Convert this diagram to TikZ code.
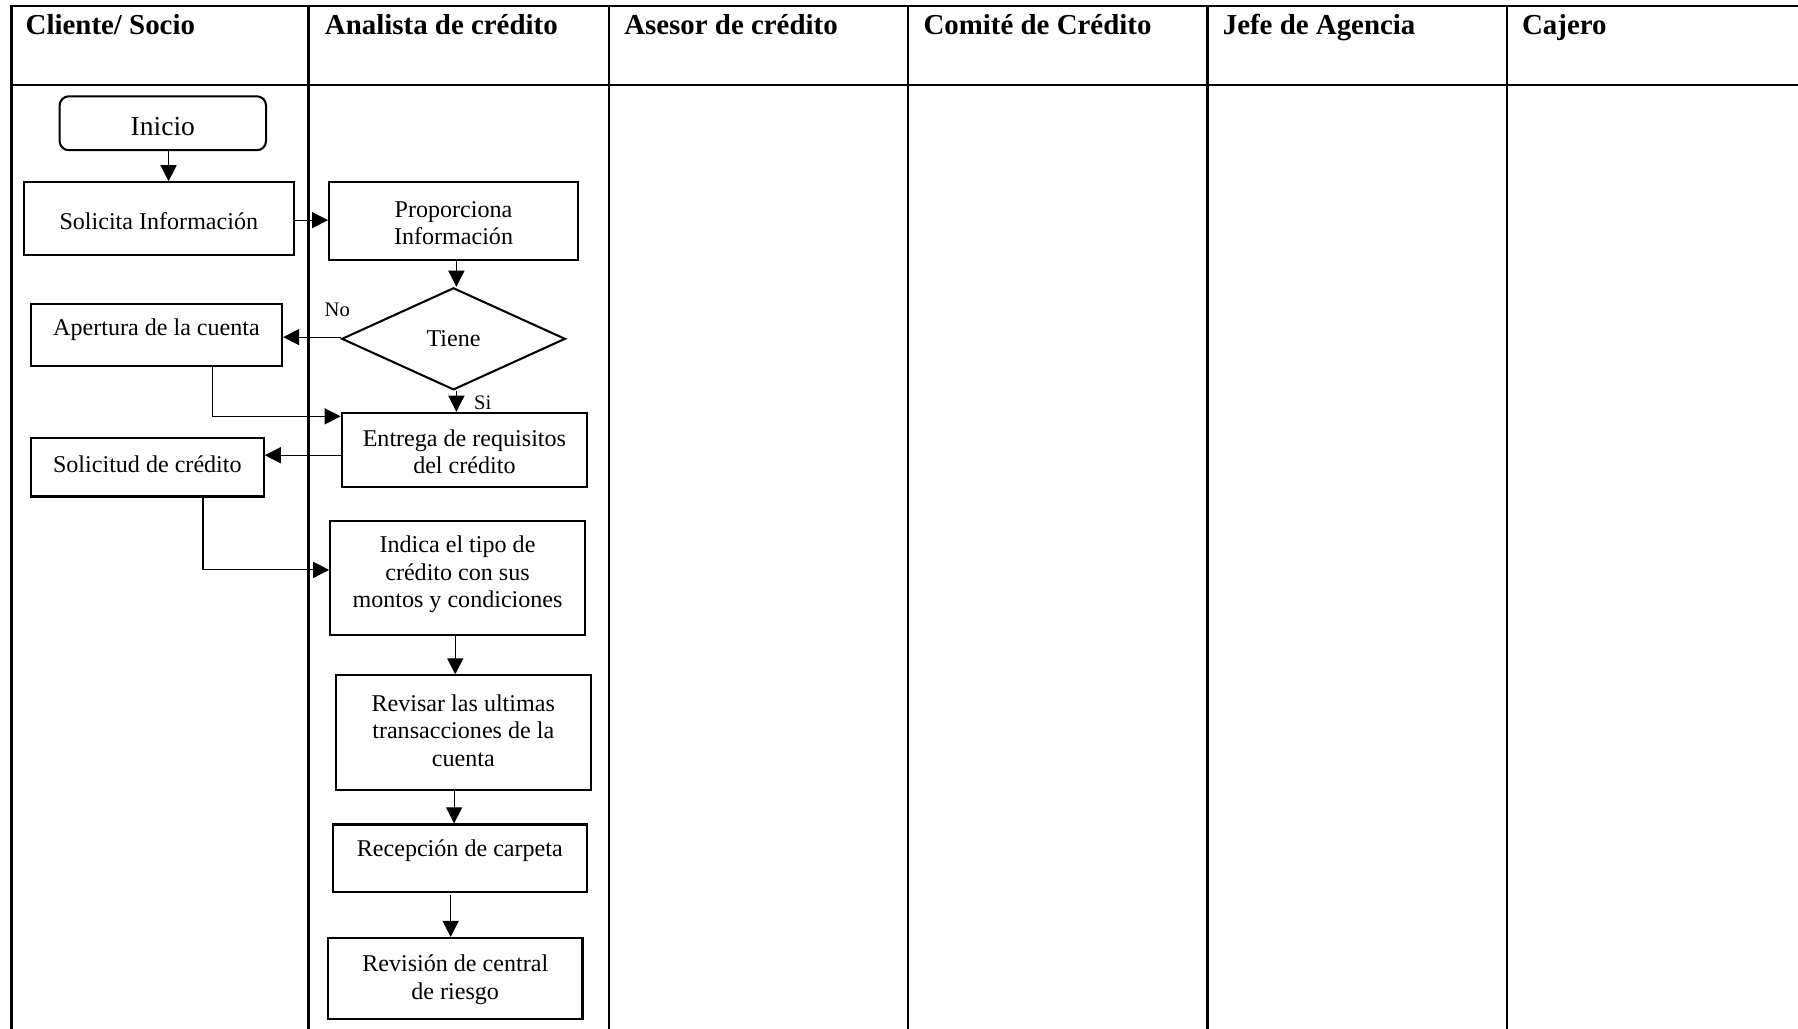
\documentclass[tikz,border=0pt]{standalone}
\usepackage{fontspec}
\setmainfont{Liberation Serif}
\usetikzlibrary{shapes.geometric,arrows.meta}
\begin{document}
\begin{tikzpicture}[x=0.5pt,y=-0.5pt,
  frame/.style={line width=1pt},
  procbox/.style={draw,line width=0.9pt,rectangle,inner sep=0pt},
  txt/.style={font=\fontsize{10.5}{12}\selectfont,align=center,inner sep=0pt},
  hdr/.style={font=\fontsize{12.6}{14}\selectfont\bfseries,anchor=base west,inner sep=0pt},
  conn/.style={line width=0.5pt,-{Triangle[length=7pt,width=7pt]}},
  lbl/.style={font=\fontsize{9}{10}\selectfont,inner sep=0pt}]

\useasboundingbox (0,0) rectangle (1568,897);
% swimlane frame
\draw[frame] (10,897) -- (10,5) -- (1568,5);
\draw[frame] (10,74) -- (1568,74);
\foreach \x in {269,531,792,1053,1314} \draw[frame] (\x,5) -- (\x,897);

% headers
\node[hdr] (h1) at (22,30) {Cliente/ Socio};
\node[hdr] (h2) at (283,30) {Analista de crédito};
\node[hdr] (h3) at (544,30) {Asesor de crédito};
\node[hdr] (h4) at (805,30) {Comité de Crédito};
\node[hdr] (h5) at (1066,30) {Jefe de Agencia};
\node[hdr] (h6) at (1327,30) {Cajero};

% nodes
\node[procbox,rounded corners=4pt,minimum width=90pt,minimum height=23.5pt,
  label={[inner sep=0pt,font=\fontsize{12}{14}\selectfont,yshift=-1.25pt]center:Inicio}] (inicio) at (142,107.5) {};
\node[procbox,minimum width=117.5pt,minimum height=31.5pt,
  label={[txt,yshift=-1pt]center:Solicita Información}] (sol) at (138.5,190.5) {};
\node[procbox,minimum width=108.5pt,minimum height=34pt,
  label={[txt,yshift=-0.75pt]center:Proporciona\\Información}] (prop) at (395.5,193) {};
\node[draw,diamond,line width=0.9pt,inner sep=0pt,aspect=2.19,minimum width=97.5pt,minimum height=44.5pt,
  label={[txt]center:Tiene}] (tiene) at (395.5,295.5) {};
\node[procbox,minimum width=109.5pt,minimum height=27pt,
  label={[txt,yshift=2.25pt]center:Apertura de la cuenta}] (apert) at (136.5,292) {};
\node[procbox,minimum width=107pt,minimum height=32.5pt,
  label={[txt,yshift=-0.75pt]center:Entrega de requisitos\\del crédito}] (ent) at (405,392.5) {};
\node[procbox,minimum width=101.5pt,minimum height=25.5pt,
  label={[txt,yshift=1.5pt]center:Solicitud de crédito}] (solc) at (128.5,407.5) {};
\node[procbox,minimum width=111pt,minimum height=50pt,
  label={[txt,yshift=1.5pt]center:Indica el tipo de\\crédito con sus\\montos y condiciones}] (ind) at (399,504) {};
\node[procbox,minimum width=111pt,minimum height=50pt,
  label={[txt,yshift=1pt]center:Revisar las ultimas\\transacciones de la\\cuenta}] (rev) at (404,639) {};
\node[procbox,minimum width=111pt,minimum height=29.5pt,
  label={[txt,yshift=3.5pt]center:Recepción de carpeta}] (rec) at (401,748.5) {};
\node[procbox,minimum width=111pt,minimum height=35.5pt,
  label={[txt,yshift=-0.5pt]center:Revisión de central\\de riesgo}] (revc) at (397,853.5) {};

% connectors
\draw[conn] ([xshift=2.5pt]inicio.south) -- ([xshift=2.5pt]inicio.south |- sol.north);
\draw[conn] ([yshift=-0.75pt]sol.east) -- ([yshift=-0.75pt]sol.east -| prop.west);
\draw[conn] ([xshift=1.25pt]prop.south) -- ([xshift=1.25pt]tiene.north);
\draw[conn] ([yshift=0.75pt]tiene.west) -- ([yshift=0.75pt]tiene.west -| apert.east);
\node[lbl] (nolbl) at ([xshift=-1.5pt,yshift=12.75pt]tiene.west) {No};
\draw[conn] ([xshift=1.25pt]tiene.south) -- ([xshift=1.25pt]tiene.south |- ent.north);
\node[lbl] (silbl) at ([xshift=12.75pt,yshift=-5pt]tiene.south) {Si};
\draw[conn] ([xshift=24.25pt]apert.south) |- ([yshift=-2pt]ent.north west);
\draw[conn] ([yshift=-2.25pt]ent.west) -- ([yshift=-2.25pt]ent.west -| solc.east);
\draw[conn] ([xshift=24.25pt]solc.south) |- ([yshift=3.5pt]ind.west);
\draw[conn] ([xshift=-1pt]ind.south) -- ([xshift=-1pt]ind.south |- rev.north);
\draw[conn] ([xshift=-4pt]rev.south) -- ([xshift=-4pt]rev.south |- rec.north);
\draw[conn] ([xshift=-4pt,yshift=-1pt]rec.south) -- ([xshift=-4pt]rec.south |- revc.north);
\end{tikzpicture}
\end{document}
